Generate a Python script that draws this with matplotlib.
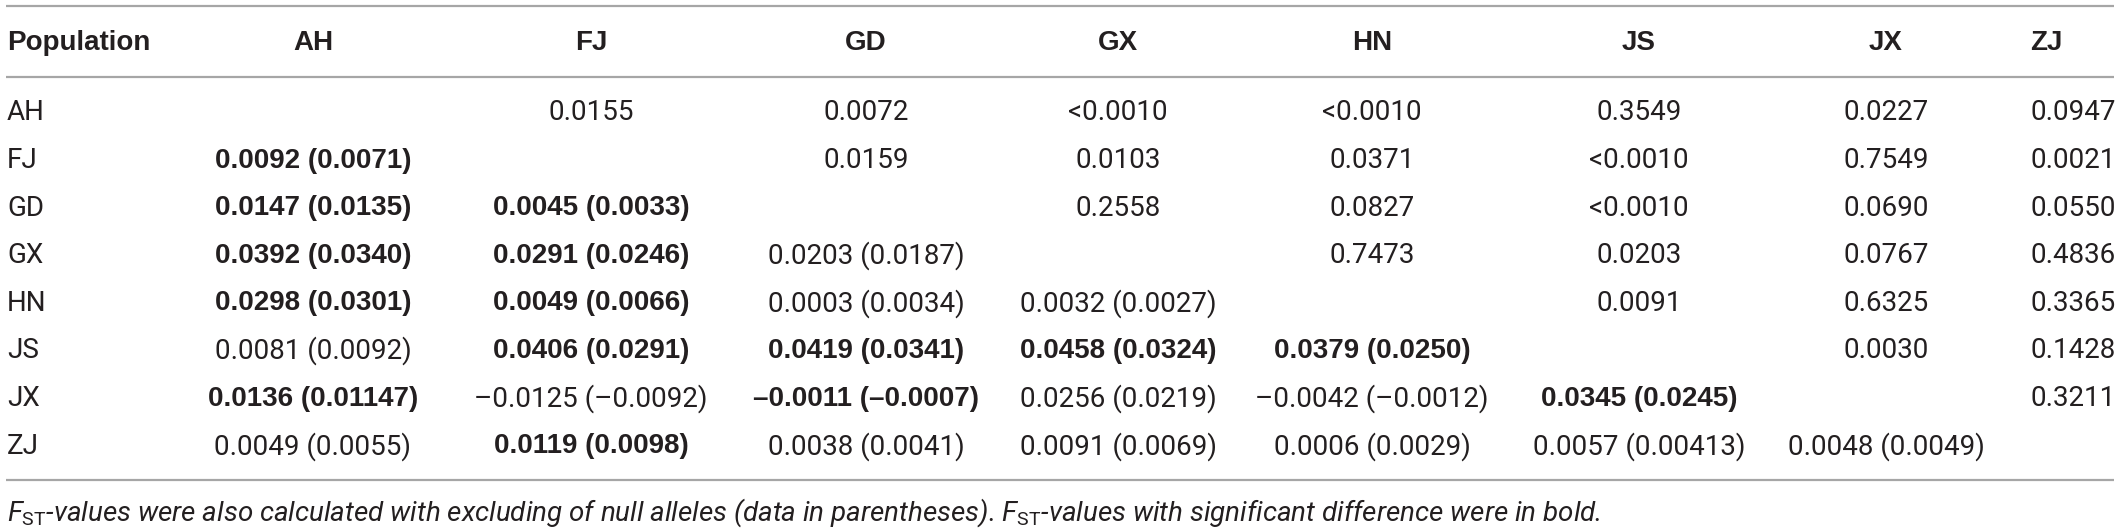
import matplotlib.pyplot as plt
from matplotlib import font_manager

# population codes (row and column headers)
populations = ["AH", "FJ", "GD", "GX", "HN", "JS", "JX", "ZJ"]
header_first = "Population"

# cell texts, one list per row; upper triangle and lower triangle (FST with/without null alleles)
cells = [
    ["", "0.0155", "0.0072", "<0.0010", "<0.0010", "0.3549", "0.0227", "0.0947"],
    ["0.0092 (0.0071)", "", "0.0159", "0.0103", "0.0371", "<0.0010", "0.7549", "0.0021"],
    ["0.0147 (0.0135)", "0.0045 (0.0033)", "", "0.2558", "0.0827", "<0.0010", "0.0690", "0.0550"],
    ["0.0392 (0.0340)", "0.0291 (0.0246)", "0.0203 (0.0187)", "", "0.7473", "0.0203", "0.0767", "0.4836"],
    ["0.0298 (0.0301)", "0.0049 (0.0066)", "0.0003 (0.0034)", "0.0032 (0.0027)", "", "0.0091", "0.6325", "0.3365"],
    ["0.0081 (0.0092)", "0.0406 (0.0291)", "0.0419 (0.0341)", "0.0458 (0.0324)", "0.0379 (0.0250)", "", "0.0030", "0.1428"],
    ["0.0136 (0.01147)", "\u20130.0125 (\u20130.0092)", "\u20130.0011 (\u20130.0007)", "0.0256 (0.0219)",
     "\u20130.0042 (\u20130.0012)", "0.0345 (0.0245)", "", "0.3211"],
    ["0.0049 (0.0055)", "0.0119 (0.0098)", "0.0038 (0.0041)", "0.0091 (0.0069)", "0.0006 (0.0029)",
     "0.0057 (0.00413)", "0.0048 (0.0049)", ""],
]

# 1 = significant (bold)
bold = [
    [0, 0, 0, 0, 0, 0, 0, 0],
    [1, 0, 0, 0, 0, 0, 0, 0],
    [1, 1, 0, 0, 0, 0, 0, 0],
    [1, 1, 0, 0, 0, 0, 0, 0],
    [1, 1, 0, 0, 0, 0, 0, 0],
    [0, 1, 1, 1, 1, 0, 0, 0],
    [1, 0, 1, 0, 0, 1, 0, 0],
    [0, 1, 0, 0, 0, 0, 0, 0],
]

footnote = (r"$\mathit{F}_{\mathrm{ST}}$-values were also calculated with excluding of null alleles "
            r"(data in parentheses). $\mathit{F}_{\mathrm{ST}}$-values with significant difference were in bold.")

# layout (pixels)
W, H = 2118, 528
col_x = [313, 591, 866, 1118, 1372, 1639, 1886]
last_col_x = 2030
row_y0, row_dy = 113, 47.6
header_y = 43

names = {f.name for f in font_manager.fontManager.ttflist}
light_family = "Roboto" if "Roboto" in names else "DejaVu Sans"
bold_family = "Liberation Sans" if "Liberation Sans" in names else "DejaVu Sans"

plt.rcParams.update({
    "mathtext.fontset": "custom",
    "mathtext.rm": light_family,
    "mathtext.it": light_family + ":italic",
})

fig = plt.figure(figsize=(W / 100, H / 100), dpi=100)
ax = fig.add_axes([0, 0, 1, 1])
ax.set_xlim(0, W)
ax.set_ylim(H, 0)
ax.axis("off")

fs = 20
txt_color = "#231f20"
line_color = "#a6a6a6"

def put(x, y, s, is_bold, ha):
    if is_bold:
        ax.text(x, y, s, ha=ha, va="center", fontsize=fs, fontweight="bold",
                family=bold_family, color=txt_color)
    else:
        ax.text(x, y, s, ha=ha, va="center", fontsize=fs, fontweight="normal",
                family=light_family, color=txt_color)

# rules
for yl in [6, 77, 480]:
    ax.plot([6, W - 4], [yl, yl], color=line_color, lw=1.6, solid_capstyle="butt")

# header
put(7, header_y, header_first, True, "left")
for j, p in enumerate(populations):
    if j < len(col_x):
        put(col_x[j], header_y, p, True, "center")
    else:
        put(last_col_x, header_y, p, True, "left")

# body
for i, p in enumerate(populations):
    y = row_y0 + i * row_dy
    put(7, y, p, False, "left")
    for j, s in enumerate(cells[i]):
        if not s:
            continue
        if j < len(col_x):
            put(col_x[j], y, s, bold[i][j], "center")
        else:
            put(last_col_x, y, s, bold[i][j], "left")

ax.text(7, 513, footnote, ha="left", va="center", fontsize=20, fontweight="normal",
        style="italic", family=light_family, color=txt_color)

fig.savefig("out.png", dpi=100)
